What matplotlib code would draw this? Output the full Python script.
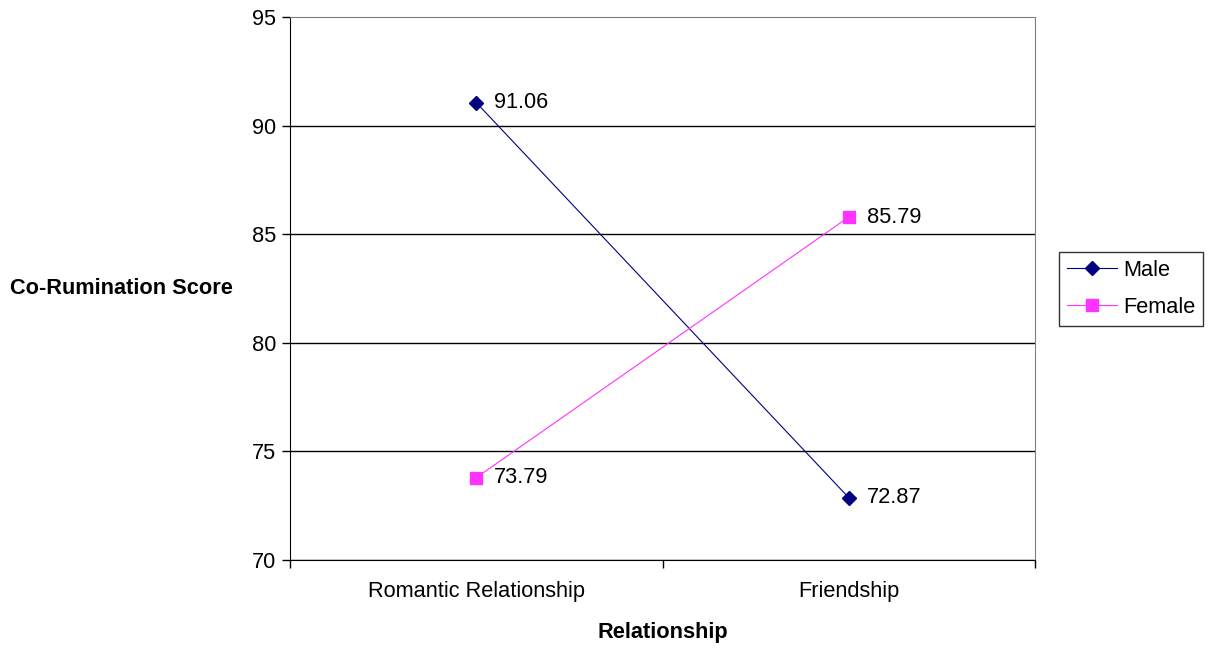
import matplotlib.pyplot as plt

plt.rcParams['font.family'] = ['Liberation Sans', 'DejaVu Sans']

categories = ["Romantic Relationship", "Friendship"]
male = [91.06, 72.87]
female = [73.79, 85.79]

FS = 15.7
W, H = 1211, 650
fig = plt.figure(figsize=(W / 100, H / 100), dpi=100)
ax = fig.add_axes([290 / W, 1 - 560 / H, 745 / W, 543 / H])

x = list(range(len(categories)))
ax.plot(x, male, color="#000080", lw=0.8, marker="D", ms=7, label="Male", zorder=3)
ax.plot(x, female, color="#FF33FF", lw=0.8, marker="s", ms=8, label="Female", zorder=3)

for xi, v in zip(x, male):
    ax.annotate(f"{v:.2f}", (xi, v), xytext=(13, 0), textcoords="offset points",
                va="center", ha="left", fontsize=FS)
for xi, v in zip(x, female):
    ax.annotate(f"{v:.2f}", (xi, v), xytext=(13, 0), textcoords="offset points",
                va="center", ha="left", fontsize=FS)

ax.set_xlim(-0.5, len(categories) - 0.5)
ax.set_ylim(70, 95)
ax.set_yticks(range(70, 96, 5))
ax.tick_params(axis="y", labelsize=FS, length=6, width=1, pad=4)

ax.set_xticks(x)
ax.set_xticklabels(categories, fontsize=FS)
ax.tick_params(axis="x", which="major", length=0, pad=15)
ax.set_xticks([i - 0.5 for i in range(len(categories) + 1)], minor=True)
ax.tick_params(axis="x", which="minor", length=6, width=1)

ax.yaxis.grid(True, color="black", lw=1)
ax.get_ygridlines()[-1].set_visible(False)
ax.set_axisbelow(True)

for s in ["left", "bottom"]:
    ax.spines[s].set_color("black")
for s in ["top", "right"]:
    ax.spines[s].set_color("#808080")

ax.set_ylabel("Co-Rumination Score", fontsize=FS, fontweight="bold",
              rotation=0, ha="center", va="center")
ax.yaxis.set_label_coords(-0.226, 0.50)
ax.set_xlabel("Relationship", fontsize=FS, fontweight="bold", va="center")
ax.xaxis.set_label_coords(0.5, -0.133)

leg = ax.legend(loc="upper left", bbox_to_anchor=(1059 / W, 1 - 252 / H),
                bbox_transform=fig.transFigure, borderaxespad=0, fontsize=FS,
                frameon=True, fancybox=False, edgecolor="black",
                handlelength=2.3, handletextpad=0.3, borderpad=0.35,
                labelspacing=0.75)
leg.get_frame().set_linewidth(1)

fig.savefig("out.png", dpi=100)
